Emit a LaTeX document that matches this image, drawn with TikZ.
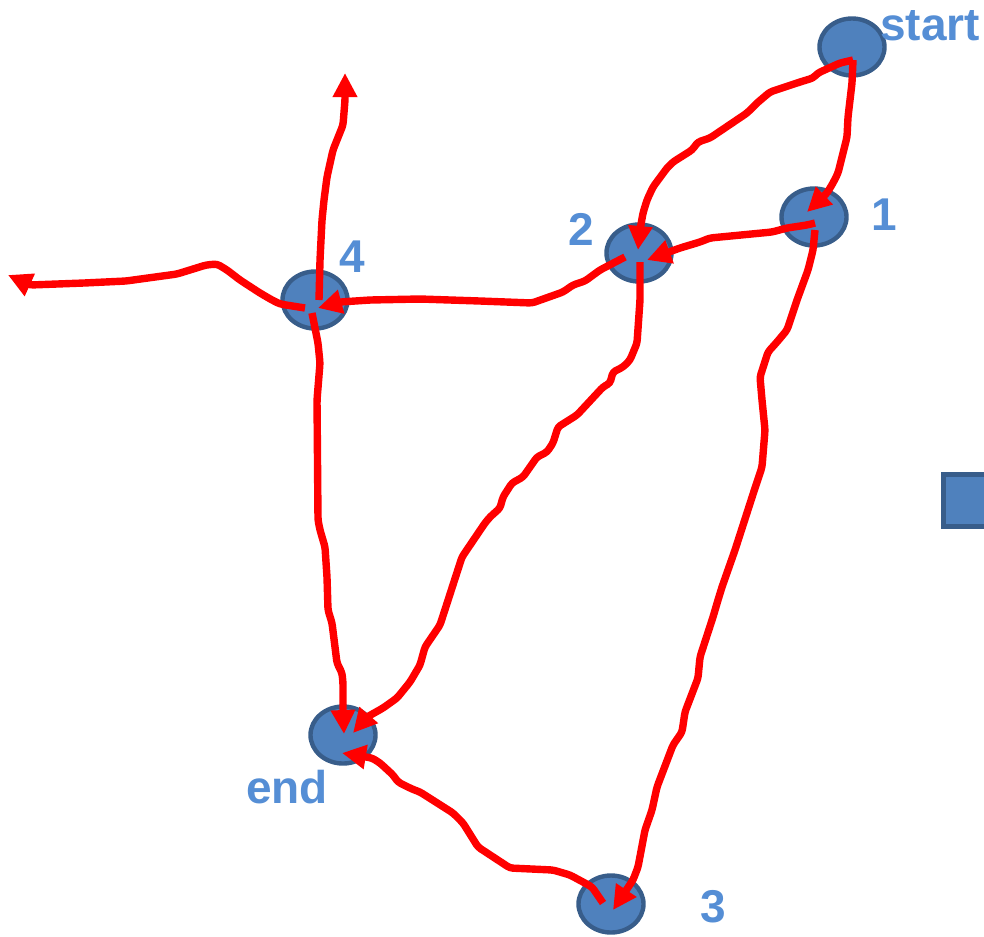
\documentclass[tikz,border=0pt]{standalone}
\usepackage{fontspec}
\setmainfont{Liberation Sans}
\usetikzlibrary{shapes.geometric, arrows.meta}

\definecolor{spotfill}{HTML}{4F81BD}
\definecolor{spotline}{HTML}{385D8A}
\definecolor{tagblue}{HTML}{558ED5}

\begin{document}
\begin{tikzpicture}[
  x=0.025cm, y=-0.025cm,
  spot/.style={
    ellipse,
    draw=spotline,
    fill=spotfill,
    line width=0.11cm,
    inner sep=0pt,
    minimum width=1.625cm,
    minimum height=1.425cm
  },
  box/.style={
    rectangle,
    draw=spotline,
    fill=spotfill,
    line width=0.125cm,
    inner sep=0pt,
    minimum size=1.3cm
  },
  tag/.style={
    anchor=base,
    text=tagblue,
    font=\fontsize{32.7pt}{36pt}\selectfont\bfseries
  },
  route/.style={
    draw=red,
    line width=0.185cm,
    rounded corners=0.075cm,
    -{Triangle[length=0.6cm, width=0.58cm]}
  }
]
\useasboundingbox (0,0) rectangle (984,936);
\clip (0,0) rectangle (984,936);

% Nodes
\node[spot] (start) at (852,47) {};
\node[spot] (n1) at (814,217) {};
\node[spot] (n2) at (639,253) {};
\node[spot] (n4) at (315,300) {};
\node[spot] (end) at (343,735) {};
\node[spot] (n3) at (611,904) {};
\node[box] (sq) at (969,500) {};

% Labels
\node[tag] (tstart) at (930,40) {start};
\node[tag] (t1) at (884,230) {1};
\node[tag] (t2) at (581,245) {2};
\node[tag] (t4) at (352,272) {4};
\node[tag] (tend) at (287,803) {end};
\node[tag] (t3) at (713,922) {3};

% Loose ends
\coordinate (up) at (345,73);
\coordinate (west) at (8,275);

% Arrows
\draw[route] ([shift={(1,13)}]start.center) -- (840,63) -- (818,73) -- (813,78)
  -- (800,82) -- (770,92) -- (757,103) -- (747,113) -- (710,138) -- (698,142)
  -- (692,150) -- (673,162) -- (667,168) -- (653,187) -- (647,200) -- (643,213)
  -- (640,230) -- ([shift={(-1,-3)}]n2.center);
\draw[route] ([shift={(1,13)}]start.center) -- (852,83) -- (848,117) -- (847,137)
  -- (842,157) -- (838,173) -- (833,183) -- (827,193) -- ([shift={(-7,-5)}]n1.center);
\draw[route] ([shift={(1,6)}]n1.center) -- (807,225) -- (787,228) -- (772,232)
  -- (710,238) -- (700,242) -- (680,248) -- ([shift={(8,7)}]n2.center);
\draw[route] ([shift={(1,13)}]n1.center) -- (813,250) -- (808,270) -- (797,300)
  -- (787,330) -- (777,342) -- (768,352) -- (760,377) -- (762,400) -- (765,430)
  -- (762,467) -- (755,488) -- (735,550) -- (722,587) -- (718,600) -- (713,617)
  -- (700,657) -- (698,678) -- (685,712) -- (682,732) -- (673,745) -- (657,787)
  -- (652,810) -- (645,830) -- (638,867) -- (633,880) -- ([shift={(2,6)}]n3.center);
\draw[route] ([shift={(-14,4)}]n2.center) -- (600,270) -- (585,281) -- (573,285)
  -- (563,292) -- (532,303) -- (480,301) -- (420,299) -- (370,300) -- (340,302)
  -- ([shift={(3,8)}]n4.center);
\draw[route] ([shift={(1,9)}]n2.center) -- (640,300) -- (637,343) -- (630,360)
  -- (623,367) -- (613,372) -- (610,383) -- (603,387) -- (590,401)
  -- (577,415) -- (558,427) -- (553,443) -- (547,452) -- (537,457) -- (523,477)
  -- (512,483) -- (503,497) -- (500,508) -- (490,517) -- (485,523) -- (462,557)
  -- (440,625) -- (425,647) -- (420,665) -- (410,682) -- (397,698) -- (383,708)
  -- (367,717) -- ([shift={(10,-2)}]end.center);
\draw[route] ([shift={(4,0)}]n4.center) -- (320,260) -- (322,220) -- (324,200)
  -- (327,177) -- (333,150) -- (343,125) -- (345,100) -- (up);
\draw[route] ([shift={(-10,8)}]n4.center) -- (280,304) -- (272,300) -- (260,293)
  -- (240,280) -- (227,270) -- (217,264) -- (206,265) -- (177,274) -- (126,281)
  -- (84,283) -- (30,285) -- (west);
\draw[route] ([shift={(-3,13)}]n4.center) -- (318,343) -- (320,363) -- (317,400)
  -- (318,520) -- (320,530) -- (325,547) -- (327,577) -- (328,610) -- (332,623)
  -- (335,647) -- (337,663) -- (342,673) -- (343,683) -- (343,710)
  -- ([shift={(1,-1)}]end.center);
\draw[route] ([shift={(-8,-1)}]n3.center) -- (592,887) -- (583,882) -- (570,875)
  -- (553,870) -- (510,868) -- (478,847) -- (463,823) -- (453,813) -- (420,792)
  -- (412,789) -- (398,782) -- (393,775) -- (380,763) -- (372,758)
  -- ([shift={(-1,18)}]end.center);

\end{tikzpicture}
\end{document}
